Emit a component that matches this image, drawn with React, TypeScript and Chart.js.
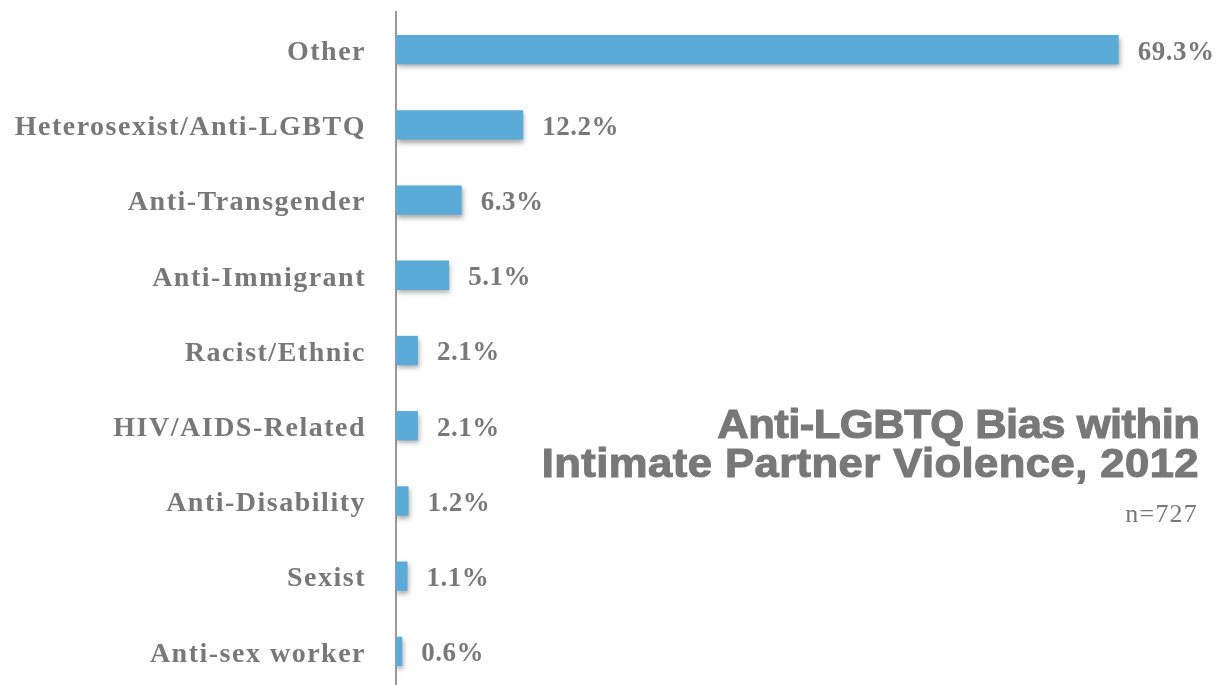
import React, { useEffect, useRef } from "react";
import { Chart, registerables } from "chart.js";

Chart.register(...registerables);

const categories = [
  "Other",
  "Heterosexist/Anti-LGBTQ",
  "Anti-Transgender",
  "Anti-Immigrant",
  "Racist/Ethnic",
  "HIV/AIDS-Related",
  "Anti-Disability",
  "Sexist",
  "Anti-sex worker",
];
const values = [69.3, 12.2, 6.3, 5.1, 2.1, 2.1, 1.2, 1.1, 0.6];
const titleLines = ["Anti-LGBTQ Bias within", "Intimate Partner Violence, 2012"];
const subtitle = "n=727";

const GRAY = "#787878";
const BLUE = "#5aabd7";
const SERIF = "'Liberation Serif', 'Times New Roman', serif";
const SANS = "'Liberation Sans', Arial, sans-serif";

export default function App() {
  const ref = useRef<HTMLCanvasElement | null>(null);

  useEffect(() => {
    if (!ref.current) return;
    const spacingPlugin = {
      id: "spacing",
      beforeDraw(chart: any) {
        (chart.ctx as any).letterSpacing = "1.5px";
      },
      afterDraw(chart: any) {
        (chart.ctx as any).letterSpacing = "0px";
      },
    };
    const shadowPlugin = {
      id: "barShadow",
      beforeDatasetsDraw(chart: any) {
        const ctx = chart.ctx;
        ctx.save();
        ctx.shadowColor = "rgba(0,0,0,0.35)";
        ctx.shadowBlur = 5;
        ctx.shadowOffsetX = 1;
        ctx.shadowOffsetY = 3;
      },
      afterDatasetsDraw(chart: any) {
        chart.ctx.restore();
      },
    };
    const valueLabels = {
      id: "valueLabels",
      afterDatasetsDraw(chart: any) {
        const ctx = chart.ctx;
        const meta = chart.getDatasetMeta(0);
        ctx.save();
        (ctx as any).letterSpacing = "0.5px";
        ctx.fillStyle = GRAY;
        ctx.font = `bold 27px ${SERIF}`;
        ctx.textAlign = "left";
        ctx.textBaseline = "middle";
        meta.data.forEach((bar: any, i: number) => {
          ctx.fillText(values[i].toFixed(1) + "%", bar.x + 19, bar.y + 3);
        });
        ctx.restore();
      },
    };
    const chart = new Chart(ref.current, {
      type: "bar",
      data: {
        labels: categories,
        datasets: [
          {
            data: values,
            backgroundColor: BLUE,
            borderWidth: 0,
            barPercentage: 0.78,
            categoryPercentage: 0.5,
          },
        ],
      },
      options: {
        indexAxis: "y",
        animation: false,
        responsive: false,
        maintainAspectRatio: false,
        layout: { padding: { top: 12, bottom: 1, right: 94, left: 0 } },
        plugins: {
          legend: { display: false },
          tooltip: { enabled: false },
          title: { display: false },
        },
        scales: {
          x: {
            display: false,
            min: 0,
            max: 70,
          },
          y: {
            grid: { display: false, drawTicks: false },
            border: { display: true, color: "#9a9a9a", width: 2 },
            ticks: {
              color: GRAY,
              padding: 30,
              labelOffset: 3,
              font: { family: SERIF, size: 28, weight: "bold" },
            },
            afterFit(scale: any) {
              scale.width = 396;
              scale.paddingTop = 0;
              scale.paddingBottom = 0;
            },
          },
        },
      },
      plugins: [spacingPlugin, shadowPlugin, valueLabels],
    });
    return () => chart.destroy();
  }, []);

  const lineStyle: React.CSSProperties = {
    position: "absolute",
    right: 21,
    whiteSpace: "nowrap",
    fontFamily: SANS,
    fontWeight: "bold",
    fontSize: 40,
    lineHeight: "40px",
    color: GRAY,
    transform: "scaleX(1.09)",
    transformOrigin: "right center",
    WebkitTextStroke: `1.1px ${GRAY}`,
  };

  return (
    <div
      style={{
        position: "fixed",
        left: 0,
        top: 0,
        width: 1220,
        height: 685,
        overflow: "hidden",
        background: "#fff",
      }}
    >
      <canvas ref={ref} width={1220} height={690} style={{ display: "block" }} />
      <div style={{ ...lineStyle, top: 404, letterSpacing: "-0.5px" }}>{titleLines[0]}</div>
      <div style={{ ...lineStyle, top: 443, letterSpacing: "0.4px" }}>{titleLines[1]}</div>
      <div
        style={{
          position: "absolute",
          right: 22,
          top: 501,
          whiteSpace: "nowrap",
          fontFamily: SERIF,
          fontSize: 26,
          lineHeight: "26px",
          letterSpacing: "1.2px",
          color: GRAY,
        }}
      >
        {subtitle}
      </div>
    </div>
  );
}
